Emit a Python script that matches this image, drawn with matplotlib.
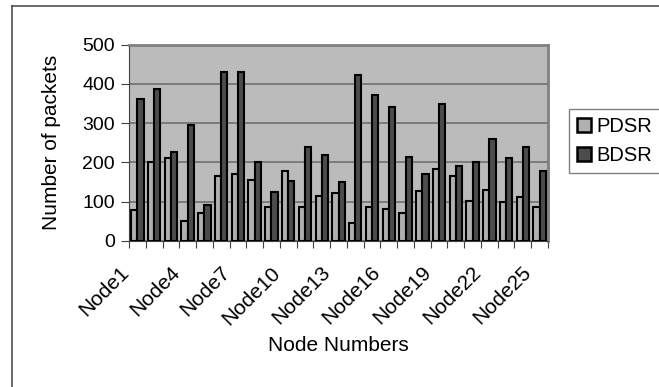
import matplotlib
matplotlib.use("Agg")
import matplotlib.pyplot as plt
import matplotlib.transforms as mtransforms
import numpy as np
from matplotlib.lines import Line2D

plt.rcParams['font.family'] = ['Liberation Sans', 'DejaVu Sans']

nodes = [f"Node{i}" for i in range(1, 26)]
pdsr = [80, 201, 211, 51, 71, 165, 171, 156, 86, 177, 87, 115, 122, 46, 86,
        81, 71, 126, 182, 165, 102, 130, 99, 112, 87]
bdsr = [362, 388, 226, 294, 92, 431, 431, 200, 124, 152, 239, 219, 149, 422, 371,
        340, 214, 171, 348, 190, 202, 259, 212, 238, 177]
yticks = [0, 100, 200, 300, 400, 500]

W, H = 659, 387
fig = plt.figure(figsize=(W / 100, H / 100), dpi=100)
ax = fig.add_axes([129 / W, 1 - 241 / H, (548 - 129) / W, (241 - 44.5) / H])
ax.set_facecolor('#bbbbbb')

x = np.arange(len(nodes))
bw = 0.37
ax.bar(x - bw / 2, pdsr, bw, color='#b0b0b0', edgecolor='black', linewidth=1.5,
       label='PDSR', zorder=3)
ax.bar(x + bw / 2, bdsr, bw, color='#4c4c4c', edgecolor='black', linewidth=1.5,
       label='BDSR', zorder=3)

ax.set_xlim(-0.5, len(nodes) - 0.5)
ax.set_ylim(0, 500)
ax.set_yticks(yticks)
ax.set_yticklabels([str(v) for v in yticks], fontsize=14)
ax.yaxis.grid(True, color='#707070', linewidth=1.2, zorder=1)
ax.set_axisbelow(True)

ax.set_xticks(np.arange(-0.5, len(nodes), 1.0), minor=False)
ax.set_xticklabels([])
ax.set_xticks(x[::3], minor=True)
ax.set_xticklabels([nodes[i] for i in x[::3]], minor=True, rotation=45,
                   ha='right', va='center', rotation_mode='anchor', fontsize=15)
ax.tick_params(axis='x', which='minor', length=0, pad=4)
ax.tick_params(axis='x', which='major', length=5, color='#404040', direction='out')
ax.tick_params(axis='y', length=6, color='#404040', direction='out', pad=4)

# shift the rotated labels so the first label's box sits where the reference has it
fig.canvas.draw()
renderer = fig.canvas.get_renderer()
labs = ax.get_xticklabels(minor=True)
bb = labs[0].get_window_extent(renderer)
dx = 133 - bb.x1
dy = (H - 263) - bb.y1
shift = mtransforms.ScaledTranslation(dx / 100, dy / 100, fig.dpi_scale_trans)
for lab in labs:
    lab.set_transform(lab.get_transform() + shift)

for s in ['top', 'right']:
    ax.spines[s].set_color('#808080')
    ax.spines[s].set_linewidth(2)
ax.spines['left'].set_color('#404040')
ax.spines['bottom'].set_color('#404040')

ax.set_ylabel('Number of packets', fontsize=15)
ax.set_xlabel('Node Numbers', fontsize=15)
ax.yaxis.set_label_coords((52 - 129) / 419, 0.5)
ax.yaxis.label.set_va('center')
ax.xaxis.set_label_coords(0.5, -(346 - 241) / 196.5)
ax.xaxis.label.set_va('center')

leg = fig.legend(loc='upper left', bbox_to_anchor=(569 / W, 1 - 109 / H),
                 fontsize=14.5, frameon=True, fancybox=False, handlelength=0.7,
                 handleheight=0.7, handletextpad=0.25, borderpad=0.4,
                 labelspacing=0.5, borderaxespad=0)
leg.get_frame().set_edgecolor('#606060')
leg.get_frame().set_linewidth(1)
for h in leg.legend_handles:
    h.set_linewidth(1.8)

# outer chart border (left and top visible)
fig.add_artist(Line2D([12 / W, 12 / W], [0, 1 - 5.5 / H], color='#505050', linewidth=1.2))
fig.add_artist(Line2D([12 / W, 1], [1 - 5.5 / H, 1 - 5.5 / H], color='#505050', linewidth=1.2))

fig.savefig('out.png', dpi=100)
